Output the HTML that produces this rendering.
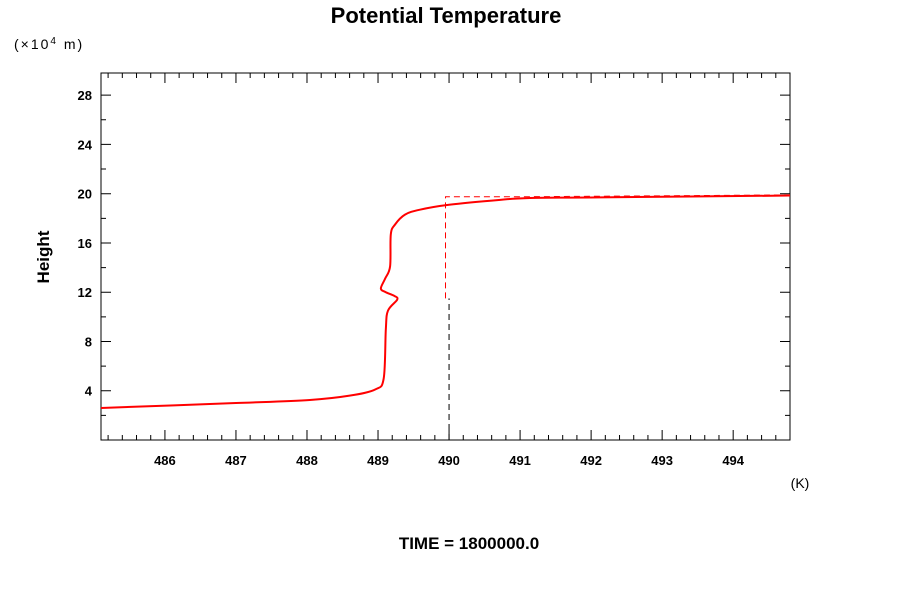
<!DOCTYPE html>
<html><head><meta charset="utf-8"><style>
body{margin:0;background:#fff;font-family:"Liberation Sans",sans-serif}
svg text{font-family:"Liberation Sans",sans-serif}
</style></head><body>
<svg width="900" height="600" xmlns="http://www.w3.org/2000/svg">
<text x="446" y="23" text-anchor="middle" font-size="22" font-weight="bold">Potential Temperature</text>
<text x="14" y="49" font-size="14" letter-spacing="2">(×10<tspan dy="-5" font-size="10">4</tspan><tspan dy="5"> m)</tspan></text>
<text x="49" y="257" transform="rotate(-90 49 257)" text-anchor="middle" font-size="17" font-weight="bold">Height</text>
<text x="800" y="488" text-anchor="middle" font-size="14">(K)</text>
<text x="469" y="549" text-anchor="middle" font-size="17" font-weight="bold">TIME = 1800000.0</text>
<rect x="101" y="73" width="689" height="367" fill="none" stroke="#000"/>
<g id="axes"></g>
<g id="marks"></g>
</svg>
<script>
const xTicks=[486,487,488,489,490,491,492,493,494];
const yTicks=[4,8,12,16,20,24,28];
const solidX=[485.1,487,488.04,488.6,488.96,489.08,489.11,489.14,489.27,489.23,489.11,489.04,489.1,489.17,489.18,489.24,489.38,489.59,490,490.72,491.14,492.13,494.8];
const solidY=[2.6,3.0,3.25,3.6,4.1,5,9,10.5,11.4,11.7,12.0,12.3,13.1,14.1,16.7,17.5,18.3,18.7,19.1,19.5,19.65,19.7,19.85];
const dashX=[489.95,489.95,491.0,494.8];
const dashY=[11.5,19.75,19.75,19.9];
const blackX=[490.0,490.0];
const blackY=[0,11.5];
const X0=101,X1=790,Y0=440,Y1=73;
const xmin=485.1,xmax=494.8,ymin=0,ymax=29.8;
const sx=v=>X0+(v-xmin)/(xmax-xmin)*(X1-X0);
const sy=v=>Y0-(v-ymin)/(ymax-ymin)*(Y0-Y1);
const NS="http://www.w3.org/2000/svg";
const ax=document.getElementById('axes'),mk=document.getElementById('marks');
function mkEl(t,a,p){const e=document.createElementNS(NS,t);for(const k in a)e.setAttribute(k,a[k]);p.appendChild(e);return e;}
for(let v=485.2;v<xmax;v+=0.2){const x=sx(v);const major=Math.abs(v-Math.round(v))<0.01;const h=major?10:5;
 const t=mkEl('path',{d:`M${x} ${Y0}v${-h}M${x} ${Y1}v${h}`,stroke:'#000'},ax);
 
 }
xTicks.forEach(v=>{const t=mkEl('text',{x:sx(v),y:Y0+25,'text-anchor':'middle','font-size':13,'font-weight':'bold'},ax);t.textContent=v;
 
 });
for(let v=2;v<ymax;v+=2){const y=sy(v);const h=v%4==0?10:5;
 const t=mkEl('path',{d:`M${X0} ${y}h${h}M${X1} ${y}h${-h}`,stroke:'#000'},ax);
 
 }
yTicks.forEach(v=>{const t=mkEl('text',{x:X0-9,y:sy(v)+5,'text-anchor':'end','font-size':13,'font-weight':'bold'},ax);t.textContent=v;
 
 });
function smooth(xs,ys){const p=xs.map((v,i)=>[sx(v),sy(ys[i])]);let d=`M${p[0][0]} ${p[0][1]}`;
 for(let i=0;i<p.length-1;i++){const a=p[i-1]||p[i],b=p[i],c=p[i+1],e=p[i+2]||c;
  d+=`C${b[0]+(c[0]-a[0])/6} ${b[1]+(c[1]-a[1])/6} ${c[0]-(e[0]-b[0])/6} ${c[1]-(e[1]-b[1])/6} ${c[0]} ${c[1]}`;}return d;}
const poly=(xs,ys)=>'M'+xs.map((v,i)=>sx(v)+' '+sy(ys[i])).join('L');
const l1=mkEl('path',{d:poly(blackX,blackY),stroke:'#000',fill:'none','stroke-dasharray':'6 4'},mk);


const l2=mkEl('path',{d:poly(dashX,dashY),stroke:'#f00',fill:'none','stroke-dasharray':'6 4'},mk);


const l3=mkEl('path',{d:smooth(solidX,solidY),stroke:'#f00',fill:'none','stroke-width':2},mk);


</script>
</body></html>
